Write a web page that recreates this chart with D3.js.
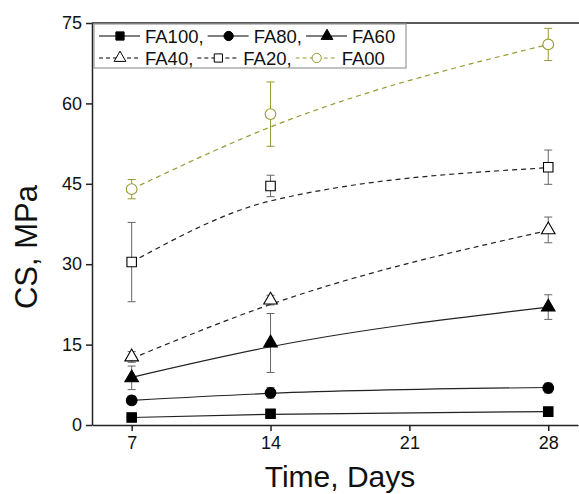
<!DOCTYPE html>
<html><head><meta charset="utf-8">
<script src="https://cdn.jsdelivr.net/npm/d3@7"></script>
<style>body{margin:0;background:#fff}svg{display:block}text{font-family:Arial,"Liberation Sans",sans-serif}</style>
</head><body><svg id="c" width="579" height="494"></svg>
<script>
const days = [7, 14, 28];
const xTicks = [7, 14, 21, 28];
const yTicks = [0, 15, 30, 45, 60, 75];
const seriesNames = ["FA100", "FA80", "FA60", "FA40", "FA20", "FA00"];
const FA100 = [1.4, 2.1, 2.5];
const FA80 = [4.6, 6.0, 6.9];
const FA60 = [8.8, 15.3, 22.0];
const FA40 = [12.7, 23.3, 36.4];
const FA20 = [30.4, 44.6, 48.1];
const FA00 = [44.0, 58.0, 71.0];
const errFA100 = [0.4, 0.4, 0.4];
const errFA80 = [0.8, 1.0, 0.9];
const errFA60 = [2.2, 5.5, 2.3];
const errFA40 = [1.0, 0.9, 2.4];
const errFA20 = [7.4, 2.0, 3.2];
const errFA00 = [1.8, 6.0, 3.0];
const fitFA100 = [1.4, 2.0, 2.5];
const fitFA80 = [4.6, 5.9, 7.0];
const fitFA60 = [8.9, 14.6, 22.0];
const fitFA40 = [12.4, 22.5, 36.3];
const fitFA20 = [30.4, 41.8, 48.0];
const fitFA00 = [44.0, 55.6, 71.0];

const olive = "#999933";
const series = [
  {name:"FA100", v:FA100, e:errFA100, f:fitFA100, sym:d3.symbolSquare, size:90, fill:"#000", color:"#000", dash:null},
  {name:"FA80", v:FA80, e:errFA80, f:fitFA80, sym:d3.symbolCircle, size:90, fill:"#000", color:"#000", dash:null},
  {name:"FA60", v:FA60, e:errFA60, f:fitFA60, sym:d3.symbolTriangle, size:80, fill:"#000", color:"#000", dash:null},
  {name:"FA40", v:FA40, e:errFA40, f:fitFA40, sym:d3.symbolTriangle, size:80, fill:"#fff", color:"#000", dash:"5,4"},
  {name:"FA20", v:FA20, e:errFA20, f:fitFA20, sym:d3.symbolSquare, size:90, fill:"#fff", color:"#000", dash:"5,4"},
  {name:"FA00", v:FA00, e:errFA00, f:fitFA00, sym:d3.symbolCircle, size:90, fill:"#fff", color:olive, dash:"5,4"}
];

const svg = d3.select("#c");
const x = d3.scaleLinear().domain([5, 29.5]).range([92, 578]);
const y = d3.scaleLinear().domain([0, 75]).range([425, 23]);

// fitted curves
const line = d3.line().x((d,i)=>x(days[i])).y(d=>y(d)).curve(d3.curveMonotoneX);
series.forEach(s=>{
  svg.append("path").attr("d", line(s.f)).attr("fill","none")
    .attr("stroke", s.color === olive ? olive : "#222").attr("stroke-width",1.2)
    .attr("stroke-dasharray", s.dash);
});

// error bars
series.forEach(s=>{
  const g = svg.append("g").attr("stroke", s.color===olive? olive : "#666").attr("stroke-width",1);
  s.v.forEach((v,i)=>{
    const cx = x(days[i]);
    g.append("line").attr("x1",cx).attr("x2",cx).attr("y1",y(v+s.e[i])).attr("y2",y(v-s.e[i]));
    g.append("line").attr("x1",cx-4).attr("x2",cx+4).attr("y1",y(v+s.e[i])).attr("y2",y(v+s.e[i]));
    g.append("line").attr("x1",cx-4).attr("x2",cx+4).attr("y1",y(v-s.e[i])).attr("y2",y(v-s.e[i]));
  });
});

// markers
series.forEach(s=>{
  s.v.forEach((v,i)=>{
    svg.append("path").attr("d", d3.symbol().type(s.sym).size(s.size)())
      .attr("transform",`translate(${x(days[i])},${y(v)})`)
      .attr("fill", s.fill).attr("stroke", s.color===olive? olive : "#000").attr("stroke-width",1.1);
  });
});

// axes
const yAxis = svg.append("g").attr("transform","translate(92,0)")
  .call(d3.axisLeft(y).tickValues(yTicks).tickSize(6).tickPadding(4).tickSizeOuter(0));
const xAxis = svg.append("g").attr("transform","translate(0,425)")
  .call(d3.axisBottom(x).tickValues(xTicks).tickSize(6).tickPadding(5).tickSizeOuter(0));
[yAxis, xAxis].forEach(a=>{
  a.selectAll("path,line").attr("stroke","#222").attr("stroke-width",1.5);
  a.selectAll("text").attr("font-size",18).attr("fill","#111").attr("font-family","Arial, 'Liberation Sans', sans-serif");
});
svg.append("line").attr("x1",92).attr("x2",579).attr("y1",23).attr("y2",23).attr("stroke","#222").attr("stroke-width",1.5);

// axis titles
svg.append("text").attr("x",340).attr("y",487).attr("text-anchor","middle").attr("font-size",30).attr("fill","#111").text("Time, Days");
svg.append("text").attr("transform","translate(37,247) rotate(-90)").attr("text-anchor","middle").attr("font-size",31).attr("fill","#111").text("CS, MPa");

// legend
const lg = svg.append("g");
lg.append("rect").attr("x",94).attr("y",24).attr("width",312).attr("height",44).attr("fill","#fff").attr("stroke","#999").attr("stroke-width",1.2);
const rows = [[0,1,2],[3,4,5]];
const rowY = [36, 58];
rows.forEach((r,ri)=>{
  let cx = 99;
  r.forEach((si,k)=>{
    const s = series[si];
    const c = s.color===olive? olive : "#000";
    lg.append("line").attr("x1",cx).attr("x2",cx+41).attr("y1",rowY[ri]).attr("y2",rowY[ri])
      .attr("stroke",c).attr("stroke-width",1.2).attr("stroke-dasharray", s.dash ? "4,3" : null);
    lg.append("path").attr("d", d3.symbol().type(s.sym).size(s.size*0.75)())
      .attr("transform",`translate(${cx+21},${rowY[ri]})`).attr("fill", s.fill).attr("stroke",c).attr("stroke-width",1);
    const t = lg.append("text").attr("x",cx+46).attr("y",rowY[ri]+6.5).attr("font-size",18.5).attr("fill","#111")
      .text(s.name + (k<2 ? "," : ""));
    cx += 46 + t.node().getComputedTextLength() + 4;
  });
});
</script></body></html>
